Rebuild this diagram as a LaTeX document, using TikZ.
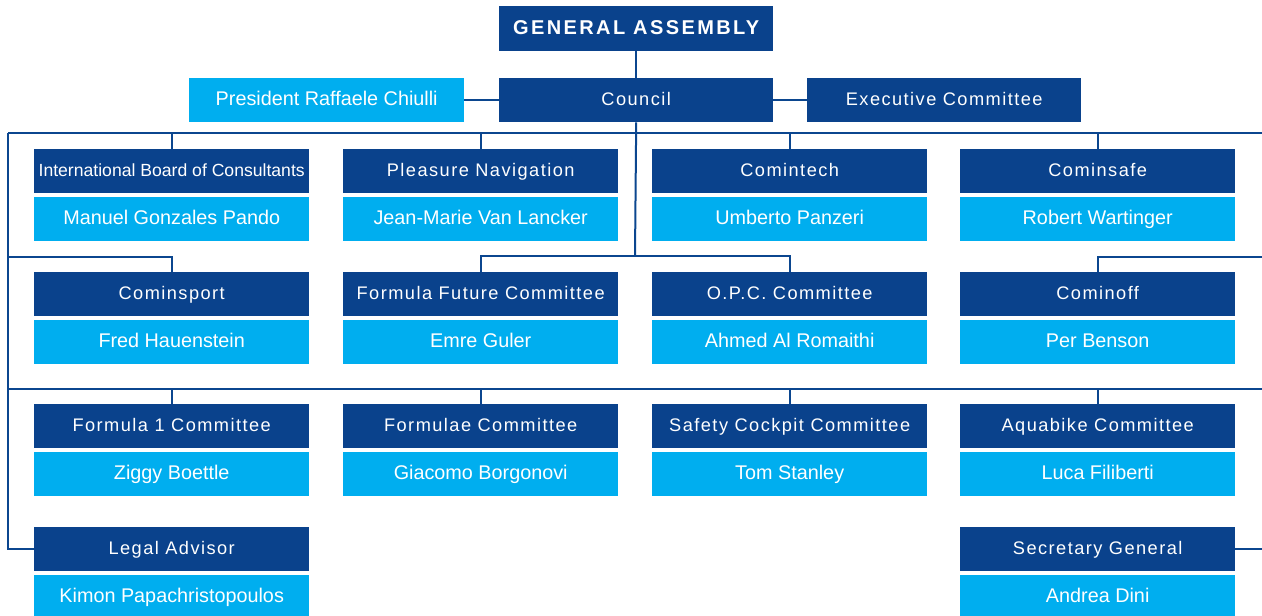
\documentclass[tikz,border=0pt]{standalone}
\usepackage{fontspec}
\setmainfont{Liberation Sans}
\newfontfamily\trk{Liberation Sans}[LetterSpace=8]
\newfontfamily\gatrk{Liberation Sans}[LetterSpace=12]
\definecolor{dkblue}{HTML}{0A428C}
\definecolor{ltblue}{HTML}{00AEEF}
\definecolor{linecol}{HTML}{0B468F}
\tikzset{
  box/.style={anchor=north west, minimum width=275pt, minimum height=44pt, inner sep=0pt, text=white, text height=14pt, text depth=3pt},
  dark/.style={box, fill=dkblue, font=\trk\fontsize{18.2}{20}\selectfont},
  light/.style={box, fill=ltblue, font=\fontsize{19.8}{21}\selectfont},
  conn/.style={draw=linecol, line width=2pt}
}
\begin{document}
\begin{tikzpicture}[x=1pt,y=-1pt]
\useasboundingbox (0,0) rectangle (1262,616);
% top
\node[dark, minimum width=274pt, minimum height=45pt, font=\gatrk\bfseries\fontsize{20}{22}\selectfont] (ga) at (499,6) {GENERAL ASSEMBLY};
\node[dark, minimum width=274pt] (council) at (499,78) {Council};
\node[light, minimum width=275pt] (pres) at (189,78) {President Raffaele Chiulli};
\node[dark, minimum width=274pt] (exec) at (807,78) {Executive Committee};
% row 1
\node[dark, font=\fontsize{17.6}{20}\selectfont] (ibc) at (34,149) {International Board of Consultants};
\node[light] (ibcp) at (34,197) {Manuel Gonzales Pando};
\node[dark] (pn) at (343,149) {Pleasure Navigation};
\node[light] (pnp) at (343,197) {Jean-Marie Van Lancker};
\node[dark] (tech) at (652,149) {Comintech};
\node[light] (techp) at (652,197) {Umberto Panzeri};
\node[dark] (safe) at (960,149) {Cominsafe};
\node[light] (safep) at (960,197) {Robert Wartinger};
% row 2
\node[dark] (sport) at (34,272) {Cominsport};
\node[light] (sportp) at (34,320) {Fred Hauenstein};
\node[dark] (ffc) at (343,272) {Formula Future Committee};
\node[light] (ffcp) at (343,320) {Emre Guler};
\node[dark] (opc) at (652,272) {O.P.C. Committee};
\node[light] (opcp) at (652,320) {Ahmed Al Romaithi};
\node[dark] (off) at (960,272) {Cominoff};
\node[light] (offp) at (960,320) {Per Benson};
% row 3
\node[dark] (f1) at (34,404) {Formula 1 Committee};
\node[light] (f1p) at (34,452) {Ziggy Boettle};
\node[dark] (fc) at (343,404) {Formulae Committee};
\node[light] (fcp) at (343,452) {Giacomo Borgonovi};
\node[dark] (scc) at (652,404) {Safety Cockpit Committee};
\node[light] (sccp) at (652,452) {Tom Stanley};
\node[dark] (aqua) at (960,404) {Aquabike Committee};
\node[light] (aquap) at (960,452) {Luca Filiberti};
% row 4
\node[dark] (legal) at (34,527) {Legal Advisor};
\node[light] (legalp) at (34,575) {Kimon Papachristopoulos};
\node[dark] (sec) at (960,527) {Secretary General};
\node[light] (secp) at (960,575) {Andrea Dini};
% connector coordinates
\coordinate (L1) at (8,133);
\coordinate (R1) at (1262,133);
\coordinate (L2) at (8,257);
\coordinate (R2) at (1262,257);
\coordinate (C2) at (635,256);
\coordinate (L3) at (8,389);
\coordinate (R3) at (1262,389);
\coordinate (R4) at (1262,548);
% connectors
\draw[conn] (ga.south) -- (council.north);
\draw[conn] (pres.east) -- (council.west);
\draw[conn] (council.east) -- (exec.west);
\draw[conn] (L1) -- (R1);
\foreach \n in {ibc,pn,tech,safe} \draw[conn] (\n.north) -- (\n.north |- L1);
\draw[conn] (council.south) -- (C2);
\draw[conn] (ffc.north) |- (C2) -| (opc.north);
\draw[conn] (L2) -| (sport.north);
\draw[conn] (R2) -| (off.north);
\draw[conn] (L3) -- (R3);
\foreach \n in {f1,fc,scc,aqua} \draw[conn] (\n.north) -- (\n.north |- L3);
\draw[conn] (L1) |- (legal.west);
\draw[conn] (sec.east) -- (sec.east -| R4);
\end{tikzpicture}
\end{document}
